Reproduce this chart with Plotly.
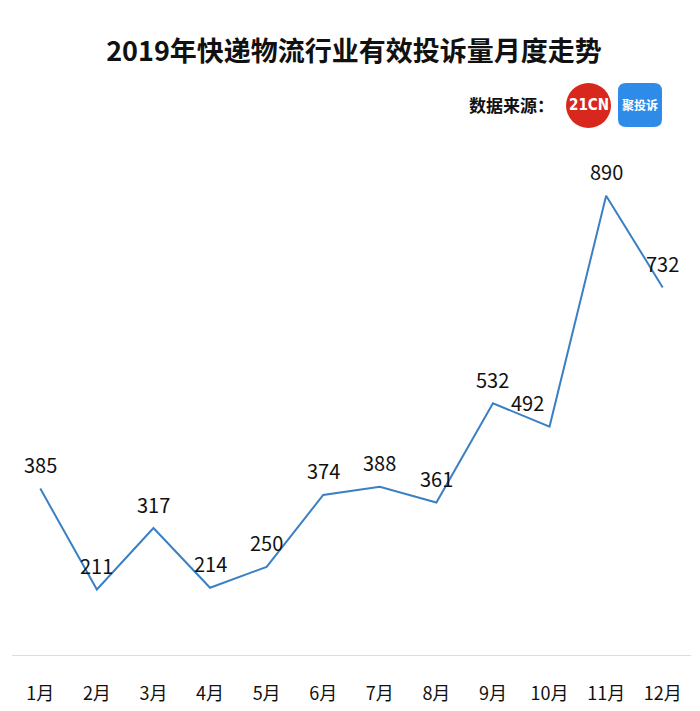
import plotly.graph_objects as go

months = ["1月", "2月", "3月", "4月", "5月", "6月", "7月", "8月", "9月", "10月", "11月", "12月"]
complaints = [385, 211, 317, 214, 250, 374, 388, 361, 532, 492, 890, 732]
label_dx = [0, 0, 0, 0, 0, 0, 0, 0, 0, -22, 0, 0]

FONT = "Noto Sans CJK SC, Microsoft YaHei, sans-serif"

# page body has an 8px margin, so the figure is 8px smaller and shifted
OFF = 8
FW, FH = 700 - OFF, 711 - OFF
L, R, T, B = 12 - OFF, 9, 150 - OFF, 56
W, H = FW - L - R, FH - T - B


def px(x):
    return (x - OFF - L) / W


def py(y):
    return (FH - B - (y - OFF)) / H


fig = go.Figure(
    go.Scatter(
        x=months,
        y=complaints,
        mode="lines",
        line=dict(color="#3a80c2", width=2),
        cliponaxis=False,
        hoverinfo="x+y",
    )
)

annotations = [
    dict(x=m, y=v, text=str(v), xref="x", yref="y", showarrow=False,
         xanchor="center", yanchor="middle", yshift=24, xshift=dx,
         font=dict(size=20, color="#111", family=FONT))
    for m, v, dx in zip(months, complaints, label_dx)
]

# logos (21CN + 聚投诉)
shapes = [
    dict(type="circle", xref="paper", yref="paper",
         x0=px(566), x1=px(611), y0=py(128), y1=py(83),
         fillcolor="#d8281d", line_width=0),
]
x0, x1, y0, y1, r = 618, 662, 83, 127, 8
path = (f"M {px(x0 + r)},{py(y0)} L {px(x1 - r)},{py(y0)} "
        f"Q {px(x1)},{py(y0)} {px(x1)},{py(y0 + r)} L {px(x1)},{py(y1 - r)} "
        f"Q {px(x1)},{py(y1)} {px(x1 - r)},{py(y1)} L {px(x0 + r)},{py(y1)} "
        f"Q {px(x0)},{py(y1)} {px(x0)},{py(y1 - r)} L {px(x0)},{py(y0 + r)} "
        f"Q {px(x0)},{py(y0)} {px(x0 + r)},{py(y0)} Z")
shapes.append(dict(type="path", xref="paper", yref="paper", path=path,
                   fillcolor="#2f8be8", line_width=0))

annotations += [
    dict(text="<b>数据来源：</b>", xref="paper", yref="paper", x=px(556), y=py(105),
         xanchor="right", yanchor="middle", showarrow=False,
         font=dict(size=17, color="#111", family=FONT)),
    dict(text="<b>21CN</b>", xref="paper", yref="paper", x=px(588.5), y=py(105),
         xanchor="center", yanchor="middle", showarrow=False,
         font=dict(size=15, color="white", family="DejaVu Sans Condensed, Liberation Sans, sans-serif")),
    dict(text="<b>聚投诉</b>", xref="paper", yref="paper", x=px(640), y=py(105),
         xanchor="center", yanchor="middle", showarrow=False,
         font=dict(size=12, color="white", family=FONT)),
]

fig.update_layout(
    width=FW,
    height=FH,
    margin=dict(l=L, r=R, t=T, b=B),
    plot_bgcolor="white",
    paper_bgcolor="white",
    showlegend=False,
    title=dict(
        text="<b>2019年快递物流行业有效投诉量月度走势</b>",
        x=0.5, xanchor="center", y=1 - (52 - OFF) / FH, yanchor="middle",
        font=dict(size=27, color="#111", family=FONT),
    ),
    shapes=shapes,
    annotations=annotations,
)
fig.update_xaxes(
    range=[-0.5, 11.5],
    showgrid=False,
    showline=True,
    linecolor="#dddddd",
    linewidth=1,
    ticks="",
    ticklabelstandoff=22,
    tickfont=dict(size=18, color="#111", family=FONT),
    fixedrange=True,
)
fig.update_yaxes(
    range=[98, 969],
    visible=False,
    fixedrange=True,
)

fig.write_html("out.html")
